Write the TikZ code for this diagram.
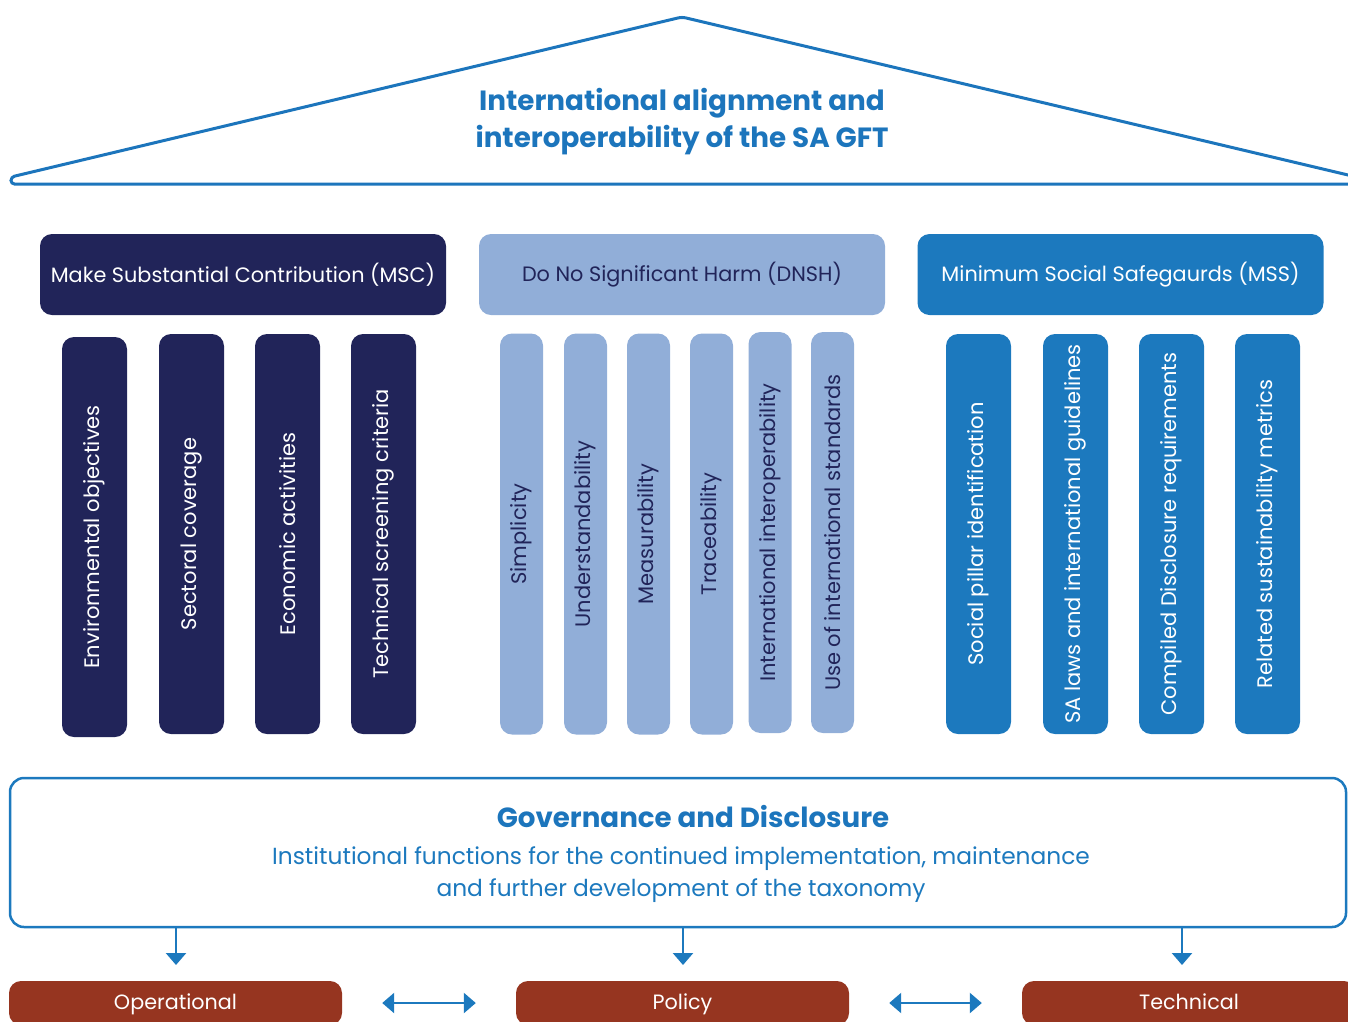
\documentclass[tikz,border=0pt]{standalone}
\usepackage{fontspec}
\setmainfont{Poppins}
\usetikzlibrary{arrows.meta}
\definecolor{navy}{HTML}{212459}
\definecolor{lightb}{HTML}{91AED8}
\definecolor{midb}{HTML}{1C79BE}
\definecolor{brick}{HTML}{963520}
\definecolor{titleb}{HTML}{1C75BC}
\tikzset{
  hdr/.style={rectangle, rounded corners=12pt, inner sep=0pt, minimum width=406pt, minimum height=81pt, font=\fontsize{20.8}{24}\selectfont},
  pillarA/.style={rectangle, rounded corners=12pt, inner sep=0pt, minimum width=400pt, minimum height=65pt, rotate=90, font=\fontsize{21}{25}\selectfont},
  pillarB/.style={rectangle, rounded corners=12pt, inner sep=0pt, minimum width=401pt, minimum height=43pt, rotate=90, font=\fontsize{21}{25}\selectfont},
  msccol/.style={fill=navy, text=white},
  dnshcol/.style={fill=lightb, text=navy},
  msscol/.style={fill=midb, text=white},
  botbox/.style={rectangle, rounded corners=12pt, inner sep=0pt, minimum width=333pt, minimum height=44pt, fill=brick, text=white, text height=17pt, text depth=4pt, font=\fontsize{20.7}{24}\selectfont},
  arr/.style={draw=midb, line width=2.5pt, -{Triangle[width=20pt,length=12pt]}},
  darr/.style={draw=midb, line width=2.5pt, {Triangle[width=20pt,length=12pt]}-{Triangle[width=20pt,length=12pt]}},
}
\begin{document}
\begin{tikzpicture}[x=1pt,y=-1pt]
\useasboundingbox (0,0) rectangle (1348,1021);
% roof
\draw[draw=titleb, line width=3pt, rounded corners=3.5pt] (1386,184) -- (682,17) -- (11,177) -- (11,184) -- cycle;
\node[text=titleb, align=center, font=\fontsize{27.8}{37}\selectfont\bfseries] (title) at (682,122) {International alignment and\\interoperability of the SA GFT};
% headers
\node[hdr, msccol] (msc) at (243,274.5) {Make Substantial Contribution (MSC)};
\node[hdr, dnshcol] (dnsh) at (682,274.5) {Do No Significant Harm (DNSH)};
\node[hdr, msscol] (mss) at (1120.5,274.5) {Minimum Social Safegaurds (MSS)};
% MSC pillars
\node[pillarA, msccol] (m1) at (94.5,537) {Environmental objectives};
\node[pillarA, msccol] (m2) at (191.5,534) {Sectoral coverage};
\node[pillarA, msccol] (m3) at (287.5,534) {Economic activities};
\node[pillarA, msccol] (m4) at (383.5,534) {Technical screening criteria};
% DNSH pillars
\node[pillarB, dnshcol] (d1) at (521.5,534) {Simplicity};
\node[pillarB, dnshcol] (d2) at (585.5,534) {Understandability};
\node[pillarB, dnshcol] (d3) at (648.5,534) {Measurability};
\node[pillarB, dnshcol] (d4) at (711.5,534) {Traceability};
\node[pillarB, dnshcol] (d5) at (770,532.5) {International interoperability};
\node[pillarB, dnshcol] (d6) at (832.5,532.5) {Use of international standards};
% MSS pillars
\node[pillarA, msscol] (s1) at (978.5,534) {Social pillar identification};
\node[pillarA, msscol] (s2) at (1075.5,534) {SA laws and international guidelines};
\node[pillarA, msscol] (s3) at (1171.5,534) {Compiled Disclosure requirements};
\node[pillarA, msscol] (s4) at (1267.5,534) {Related sustainability metrics};
% governance
\node[draw=midb, line width=2.5pt, rounded corners=14pt, minimum width=1336pt, minimum height=149pt, inner sep=0pt] (gov) at (678,852.5) {};
\node[text=titleb, font=\fontsize{27.7}{32}\selectfont\bfseries] (govt) at (693,816) {Governance and Disclosure};
\node[text=midb, align=center, font=\fontsize{23.3}{32}\selectfont] (govs) at (681,874.5) {Institutional functions for the continued implementation, maintenance\\and further development of the taxonomy};
% bottom boxes
\node[botbox] (op) at (175.5,1003) {Operational};
\node[botbox] (pol) at (682.5,1003) {Policy};
\node[botbox, minimum width=334pt] (tec) at (1189,1003) {Technical};
% arrows
\coordinate (a1) at (176,965);
\coordinate (a2) at (683,965);
\coordinate (a3) at (1182,965);
\draw[arr] (gov.south -| a1) -- (a1);
\draw[arr] (gov.south -| a2) -- (a2);
\draw[arr] (gov.south -| a3) -- (a3);
\draw[darr, shorten <=40pt, shorten >=40pt] (op.east) -- (pol.west);
\draw[darr, shorten <=40pt, shorten >=40pt] (pol.east) -- (tec.west);
\end{tikzpicture}
\end{document}
